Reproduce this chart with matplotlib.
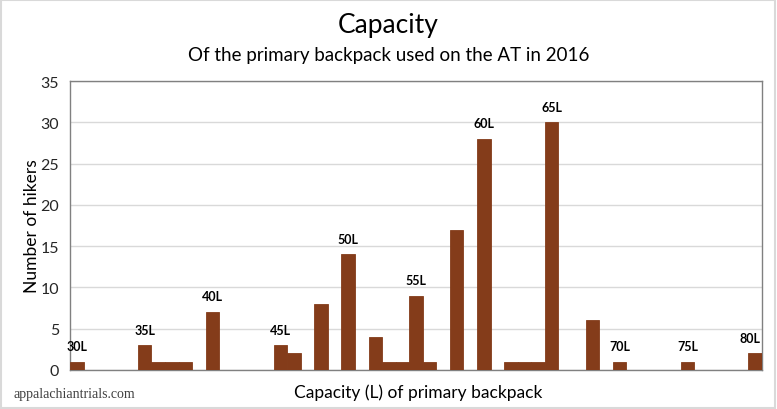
import matplotlib
matplotlib.use("Agg")
import matplotlib.pyplot as plt
from matplotlib.patches import Rectangle

capacities = [30, 35, 36, 37, 38, 40, 45, 46, 48, 50, 52, 53, 54, 55, 56, 58, 60, 62, 63, 64, 65, 68, 70, 75, 80]
hikers = [1, 3, 1, 1, 1, 7, 3, 2, 8, 14, 4, 1, 1, 9, 1, 17, 28, 1, 1, 1, 30, 6, 1, 1, 2]
labelled = [30, 35, 40, 45, 50, 55, 60, 65, 70, 75, 80]
yticks = [0, 5, 10, 15, 20, 25, 30, 35]

plt.rcParams['font.family'] = ['Lato', 'DejaVu Sans']

fig = plt.figure(figsize=(7.77, 4.10), dpi=100)
ax = fig.add_axes([70/777, 1-371/410, (762-70)/777, (371-82)/410])

color = '#843C1A'
ax.bar(capacities, hikers, width=1.0, color=color, edgecolor=color, linewidth=0.6, zorder=3)
ax.set_xlim(29.5, 80.5)
ax.set_ylim(0, 35)
ax.set_yticks(yticks)
ax.set_yticklabels([str(t) for t in yticks], fontsize=11.5)
ax.set_xticks([])
ax.tick_params(axis='y', length=0, pad=8, colors='#262626')
ax.grid(axis='y', color='#D9D9D9', linewidth=1, zorder=0)
for s in ax.spines.values():
    s.set_color('#808080')
    s.set_linewidth(1)

lookup = dict(zip(capacities, hikers))
for c in labelled:
    dx = -4 if c == 80 else 0
    ax.annotate(f"{c}L", (c, lookup[c]), xytext=(dx, 7), textcoords='offset points',
                ha='center', va='bottom', fontsize=9, fontweight='bold', color='black')

ax.set_ylabel("Number of hikers", fontsize=12.5, color='black', labelpad=0)
fig.text(418/777, 1-393/410, "Capacity (L) of primary backpack", ha='center', va='center', fontsize=12.5)
fig.text(0.5, 1-25/410, "Capacity", ha='center', va='center', fontsize=19)
fig.text(0.5, 1-55/410, "Of the primary backpack used on the AT in 2016", ha='center', va='center', fontsize=13.5)
fig.text(14/777, 1-395/410, "appalachiantrials.com", ha='left', va='center', fontsize=10,
         family='Liberation Serif', color='#404040')

fig.patches.append(Rectangle((0.001, 0.002), 0.997, 0.996, transform=fig.transFigure,
                             fill=False, edgecolor='#D9D9D9', linewidth=1.5))

fig.savefig("out.png", dpi=100)
